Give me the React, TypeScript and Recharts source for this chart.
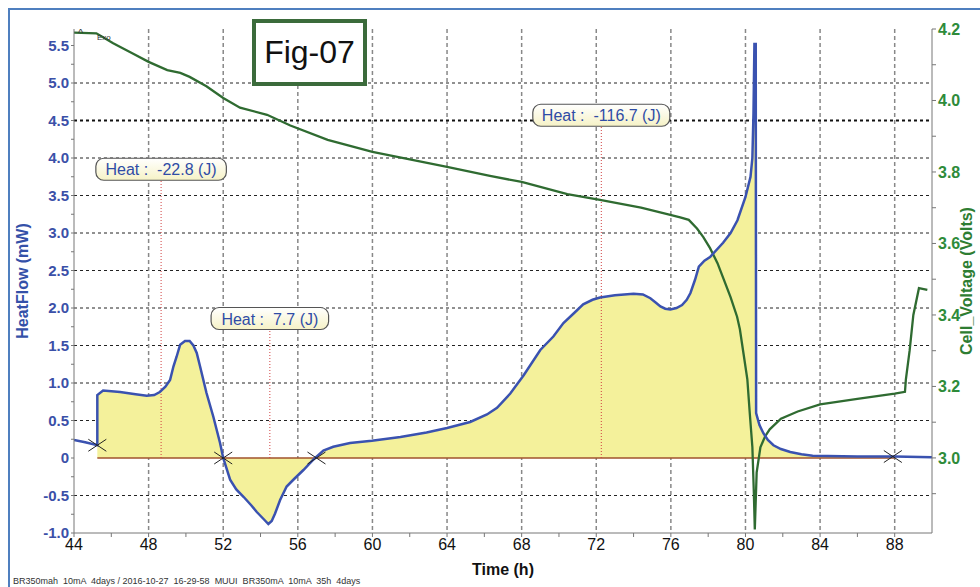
import { ComposedChart, Line, Area, XAxis, YAxis, ReferenceLine, ReferenceDot, CartesianGrid } from "recharts";

// heat flow trace (mW) vs time (h)
const heatTime = [
  44.0, 44.6, 45.25, 45.25, 45.56, 46.47, 47.3, 47.9, 48.3, 48.6, 48.9, 49.15, 49.33, 49.5, 49.69, 49.95,
  50.2, 50.4, 50.58, 50.76, 51.1, 51.47, 51.83, 52.0, 52.37, 52.7, 53.1, 53.5, 53.8, 54.15, 54.42, 54.6,
  54.78, 55.05, 55.4, 55.8, 56.3, 56.84, 57.37, 57.9, 58.8, 59.97, 61.5, 62.9, 64.0, 65.24, 66.14, 66.68,
  67.39, 68.1, 69.0, 69.7, 70.24, 70.8, 71.3, 71.8, 72.2, 73.0, 74.0, 74.5, 74.9, 75.2, 75.44, 75.7,
  75.97, 76.3, 76.6, 76.85, 77.05, 77.3, 77.5, 77.8, 78.1, 78.8, 79.2, 79.57, 80.0, 80.27, 80.37, 80.43,
  80.48, 80.55, 80.57, 80.75, 80.96, 81.2, 81.5, 81.9, 82.4, 83.0, 83.6, 86.0, 88.0, 90.0,
];
const heatFlow = [
  0.24, 0.21, 0.17, 0.84, 0.9, 0.88, 0.85, 0.83, 0.84, 0.88, 0.95, 1.04, 1.22, 1.35, 1.51, 1.56,
  1.56, 1.5, 1.4, 1.22, 0.87, 0.55, 0.2, 0.0, -0.29, -0.42, -0.52, -0.63, -0.72, -0.81, -0.88, -0.84,
  -0.74, -0.56, -0.38, -0.28, -0.16, -0.02, 0.1, 0.15, 0.2, 0.23, 0.28, 0.34, 0.4, 0.48, 0.58, 0.67,
  0.86, 1.1, 1.44, 1.62, 1.8, 1.93, 2.05, 2.11, 2.14, 2.17, 2.19, 2.18, 2.13, 2.07, 2.02, 1.99,
  1.98, 2.0, 2.04, 2.11, 2.2, 2.38, 2.55, 2.63, 2.68, 2.87, 3.0, 3.17, 3.48, 3.75, 4.0, 4.6,
  5.52, 5.52, 0.6, 0.44, 0.33, 0.24, 0.17, 0.12, 0.08, 0.05, 0.03, 0.02, 0.02, 0.01,
];

// cell voltage (V) vs time (h)
const voltTime = [
  44.0, 45.2, 46.1, 47.2, 48.0, 49.0, 49.7, 50.2, 51.1, 52.0, 52.9, 54.35, 55.6, 57.6, 60.0, 62.0,
  64.0, 66.3, 68.0, 70.45, 72.2, 74.4, 75.97, 76.5, 76.96, 77.4, 77.74, 78.1, 78.5, 78.83, 79.2, 79.55,
  79.7, 79.9, 80.1, 80.23, 80.37, 80.45, 80.5, 80.6, 80.8, 81.05, 81.3, 81.9, 82.8, 84.0, 86.0, 88.0,
  88.55, 88.6, 88.8, 89.0, 89.3, 89.75,
];
const cellVoltage = [
  4.19, 4.188, 4.16, 4.13, 4.108, 4.085, 4.077, 4.066, 4.04, 4.007, 3.98, 3.96, 3.93, 3.89, 3.856, 3.835,
  3.814, 3.789, 3.772, 3.738, 3.722, 3.7, 3.68, 3.673, 3.666, 3.642, 3.618, 3.587, 3.545, 3.5, 3.45, 3.395,
  3.36, 3.29, 3.22, 3.125, 3.03, 2.9, 2.8, 2.96, 3.03, 3.06, 3.08, 3.11, 3.13, 3.15, 3.165, 3.18,
  3.185, 3.22, 3.3, 3.4, 3.475, 3.47,
];

// integration window and markers
const fillStart = 45.25;
const fillEnd = 88;
const crossTime = [45.25, 52.0, 57.0, 87.9];
const crossValue = [0.17, 0, 0, 0.02];

const heatLabelTime = [48.67, 54.5, 72.27];
const heatLabelValue = [3.85, 1.86, 4.57];
const heatLabelText = ["Heat :  -22.8 (J)", "Heat :  7.7 (J)", "Heat :  -116.7 (J)"];

const xTicks = [44, 46, 48, 50, 52, 54, 56, 58, 60, 62, 64, 66, 68, 70, 72, 74, 76, 78, 80, 82, 84, 86, 88];
const heatTicks = [
  -1, -0.75, -0.5, -0.25, 0, 0.25, 0.5, 0.75, 1, 1.25, 1.5, 1.75, 2, 2.25, 2.5, 2.75, 3, 3.25, 3.5,
  3.75, 4, 4.25, 4.5, 4.75, 5, 5.25, 5.5,
];
const voltTicks = [2.9, 3.0, 3.1, 3.2, 3.3, 3.4, 3.5, 3.6, 3.7, 3.8, 3.9, 4.0, 4.1, 4.2];
const heatGrid = [-0.5, 0.5, 1, 1.5, 2, 2.5, 3, 3.5, 4, 5];
const timeGrid = [48, 52, 56, 60, 64, 68, 72, 76, 80, 84, 88];

const heatRows = heatTime.map((t, i) => ({ t, q: heatFlow[i] }));
const fillRows = heatRows.slice(heatTime.lastIndexOf(fillStart)).filter((r) => r.t <= fillEnd);
const voltRows = voltTime.map((t, i) => ({ t, v: cellVoltage[i] }));

const FONT = "Arial, 'Liberation Sans', sans-serif";

function XMark(props: any) {
  const { cx, cy } = props;
  return (
    <g stroke="#222" strokeWidth={1}>
      <line x1={cx - 9} y1={cy - 6} x2={cx + 9} y2={cy + 6} />
      <line x1={cx - 9} y1={cy + 6} x2={cx + 9} y2={cy - 6} />
    </g>
  );
}

function HeatBox(props: any) {
  const { cx, cy, text, idx } = props;
  const w = text.length * 6.5 + 20;
  const h = 22;
  const id = "hb" + idx;
  return (
    <g>
      <defs>
        <linearGradient id={id} x1="0" y1="0" x2="0" y2="1">
          <stop offset="0" stopColor="#ffffff" />
          <stop offset="1" stopColor="#f6f2c6" />
        </linearGradient>
      </defs>
      <rect x={cx - w / 2} y={cy - h / 2} width={w} height={h} rx={8} fill={`url(#${id})`} stroke="#555" strokeWidth={1.2} />
      <text x={cx} y={cy + 6} textAnchor="middle" fontSize={16} fill="#2f4ca6" fontFamily={FONT} style={{ whiteSpace: "pre" }}>
        {text}
      </text>
    </g>
  );
}

const fmtHeat = (v: number) => (Math.abs(v * 2 - Math.round(v * 2)) > 1e-6 ? "" : v === 0 ? "0" : v.toFixed(1));
const fmtVolt = (v: number) => (Math.round(v * 10) % 2 === 0 ? v.toFixed(1) : "");
const fmtTime = (v: number) => (v % 4 === 0 ? String(v) : "");

export default function App() {
  return (
    <div style={{ position: "absolute", left: 0, top: 0, width: 980, height: 587, background: "#fff", fontFamily: FONT }}>
      <div style={{ position: "absolute", left: 8, top: 8, width: 972, height: 579, borderLeft: "2px solid #4f7fbf", borderTop: "2px solid #4f7fbf", boxSizing: "border-box" }} />
      <ComposedChart width={980} height={587} margin={{ top: 29, right: 0, bottom: 9, left: 14 }}>
        <CartesianGrid yAxisId="heat" vertical={false} horizontalValues={heatGrid} stroke="#222" strokeDasharray="3 3" />
        <CartesianGrid yAxisId="heat" horizontal={false} verticalValues={timeGrid} stroke="#888" strokeWidth={1.5} strokeDasharray="4 3" />
        <XAxis
          dataKey="t"
          type="number"
          domain={[44, 90]}
          allowDataOverflow
          ticks={xTicks}
          tickFormatter={fmtTime}
          height={45}
          tickSize={4}
          stroke="#777"
          tick={{ fill: "#111", fontSize: 16, fontFamily: FONT }}
          label={{ value: "Time (h)", position: "insideBottom", offset: 3, style: { fill: "#111", fontSize: 16, fontWeight: "bold", fontFamily: FONT } }}
        />
        <YAxis
          yAxisId="heat"
          type="number"
          domain={[-1, 5.72]}
          allowDataOverflow
          ticks={heatTicks}
          tickFormatter={fmtHeat}
          width={60}
          tickSize={3}
          stroke="#777"
          tick={{ fill: "#3b50a8", fontSize: 15, fontWeight: "bold", fontFamily: FONT }}
          label={{ value: "HeatFlow  (mW)", angle: -90, position: "insideLeft", offset: 8, style: { textAnchor: "middle", fill: "#3451a8", fontSize: 16, fontWeight: "bold", fontFamily: FONT, whiteSpace: "pre" } }}
        />
        <YAxis
          yAxisId="volt"
          orientation="right"
          type="number"
          domain={[2.79, 4.2]}
          allowDataOverflow
          ticks={voltTicks}
          tickFormatter={fmtVolt}
          width={48}
          tickSize={4}
          stroke="#777"
          tick={{ fill: "#2e8b3a", fontSize: 16, fontWeight: "bold", fontFamily: FONT }}
          label={{ value: "Cell_Voltage (Volts)", angle: -90, position: "insideRight", offset: 14, style: { textAnchor: "middle", fill: "#2e7d32", fontSize: 16, fontWeight: "bold", fontFamily: FONT } }}
        />
        <Area yAxisId="heat" data={fillRows} dataKey="q" type="linear" baseValue={0} stroke="none" fill="#f4f19b" fillOpacity={1} isAnimationActive={false} />
        <ReferenceLine yAxisId="heat" y={4.5} stroke="#111" strokeWidth={2} strokeDasharray="3 3" />
        <ReferenceLine yAxisId="heat" segment={[{ x: fillStart, y: 0 }, { x: fillEnd, y: 0 }]} stroke="#a0522d" strokeWidth={1.5} />
        {heatLabelTime.map((t, i) => (
          <ReferenceLine key={"d" + i} yAxisId="heat" segment={[{ x: t, y: 0 }, { x: t, y: heatLabelValue[i] }]} stroke="#d04040" strokeDasharray="1 2" />
        ))}
        <Line yAxisId="volt" data={voltRows} dataKey="v" type="linear" stroke="#2f6b31" strokeWidth={2.3} dot={false} isAnimationActive={false} />
        <Line yAxisId="heat" data={heatRows} dataKey="q" type="linear" stroke="#3a52b0" strokeWidth={2.5} dot={false} isAnimationActive={false} />
        {crossTime.map((t, i) => (
          <ReferenceDot key={"x" + i} yAxisId="heat" x={t} y={crossValue[i]} r={0} shape={(p: any) => <XMark {...p} />} />
        ))}
        {heatLabelTime.map((t, i) => (
          <ReferenceDot key={"l" + i} yAxisId="heat" x={t} y={heatLabelValue[i]} r={0} shape={(p: any) => <HeatBox {...p} text={heatLabelText[i]} idx={i} />} />
        ))}
      </ComposedChart>
      <div style={{ position: "absolute", left: 78, top: 28, fontSize: 11, color: "#333", lineHeight: "11px" }}>^</div>
      <div style={{ position: "absolute", left: 97, top: 34, fontSize: 8, color: "#333", lineHeight: "8px" }}>Exo</div>
      <div style={{ position: "absolute", left: 252, top: 19, width: 115, height: 67, border: "4px solid #3b6b3b", boxSizing: "border-box", background: "#fff", display: "flex", alignItems: "center", justifyContent: "center", fontSize: 32, color: "#111" }}>
        Fig-07
      </div>
      <div style={{ position: "absolute", left: 13, top: 576, fontSize: 9, color: "#333", whiteSpace: "pre", lineHeight: "10px" }}>
        {"BR350mah  10mA  4days / 2016-10-27  16-29-58  MUUI  BR350mA  10mA  35h  4days"}
      </div>
    </div>
  );
}
